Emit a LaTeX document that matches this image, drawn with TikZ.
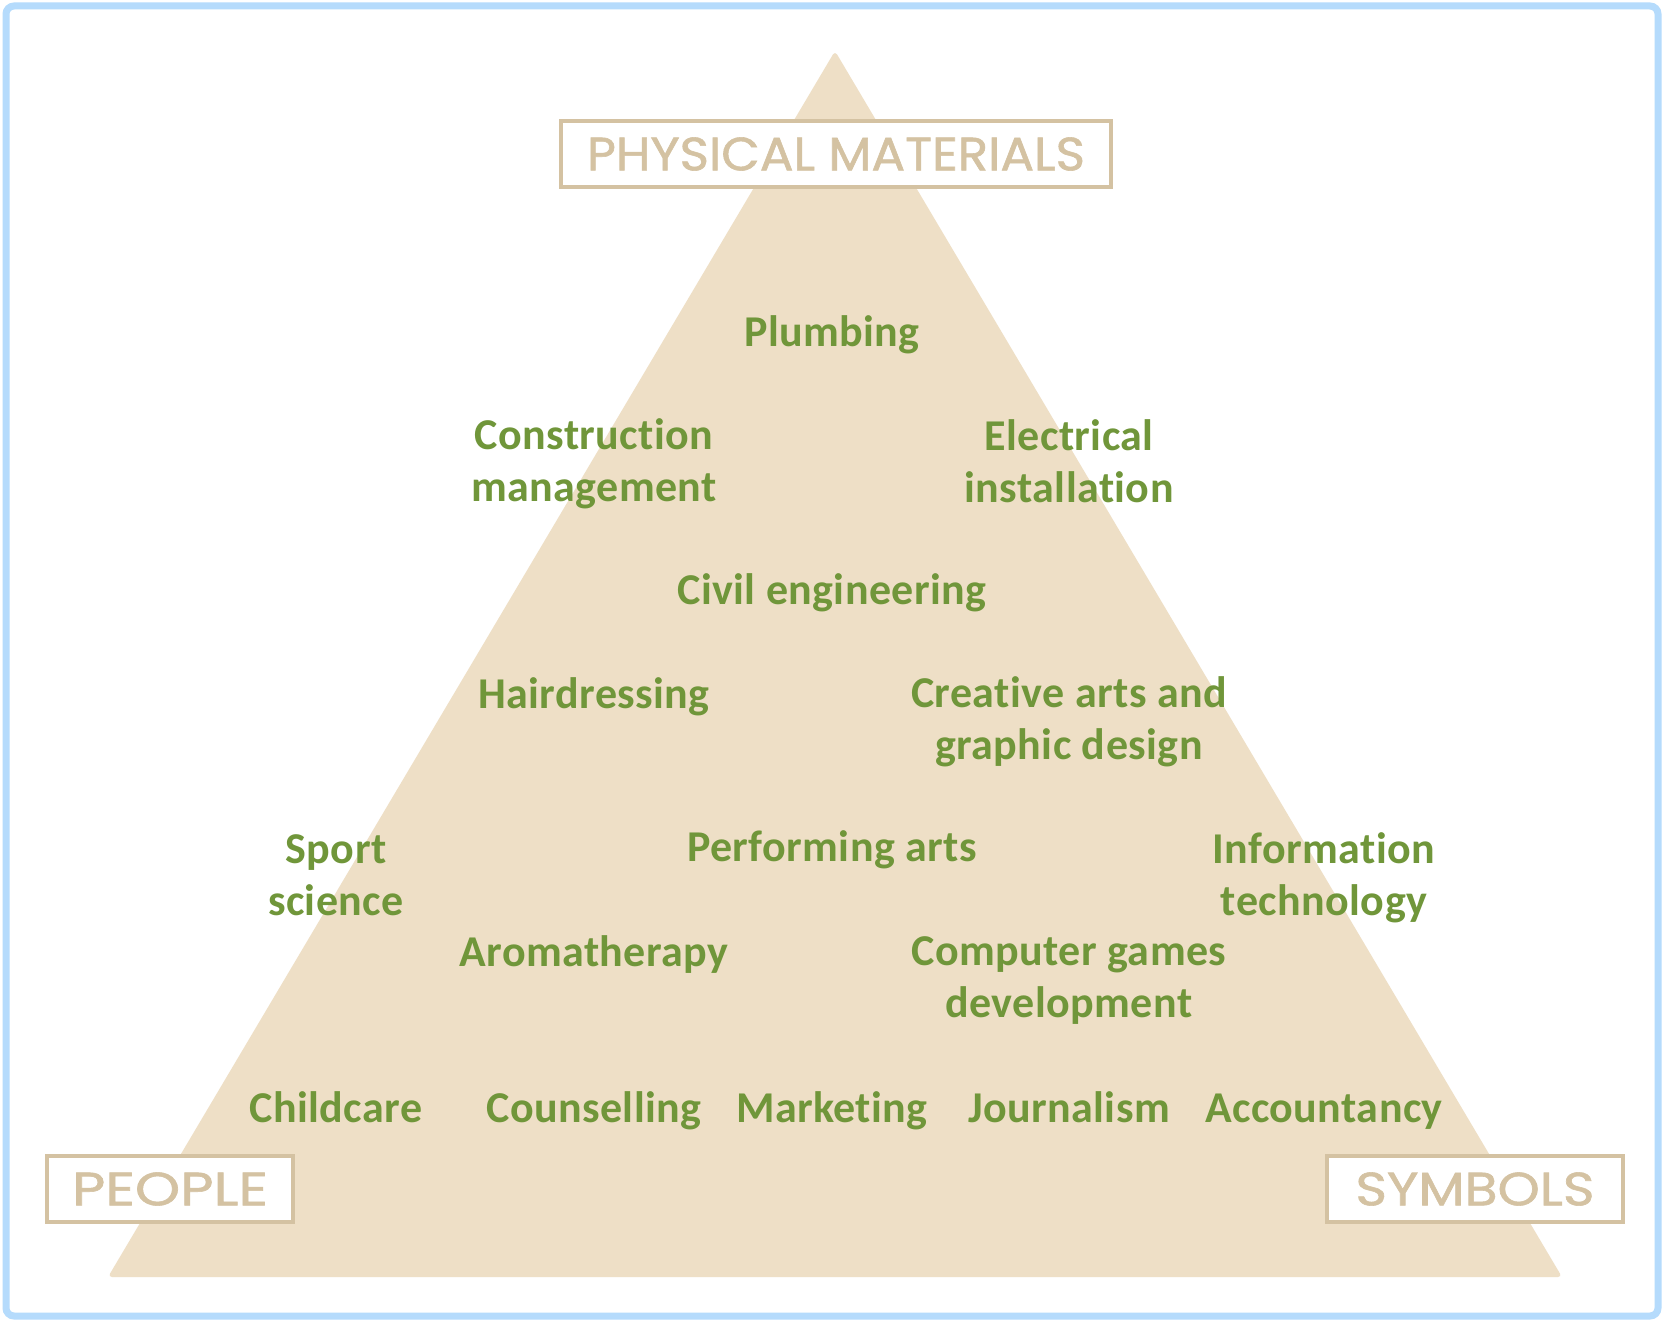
\documentclass[tikz,border=0pt]{standalone}
\usepackage{fontspec}
\setmainfont{Carlito}[Ligatures=NoCommon,LetterSpace=1]
\newfontfamily\boxfont{Poppins}[FakeBold=1.2]
\definecolor{tri}{HTML}{EEDFC6}
\definecolor{grn}{HTML}{70963A}
\definecolor{tan}{HTML}{D4C2A2}
\definecolor{frame}{HTML}{B5DBFC}
\newcommand{\boxtxt}[2]{\resizebox{#1}{16.5pt}{\boxfont\fontsize{22}{26}\selectfont #2}}
\begin{document}
\begin{tikzpicture}[x=0.5pt,y=-0.5pt,
  lbl/.style={font=\fontsize{22}{26}\selectfont\bfseries, text=grn, align=center, inner sep=0pt},
  lbb/.style={lbl, anchor=base},
  cat/.style={draw=tan, line width=2pt, fill=white, text=tan, inner sep=0pt, minimum height=33pt}]
\useasboundingbox (0,0) rectangle (1664,1322);
\fill[white] (0,0) rectangle (1664,1322);
\draw[frame, line width=3.5pt, rounded corners=4pt] (6,6) rectangle (1658,1316);
\fill[tri, rounded corners=2pt] (108,1277) -- (835,51) -- (1562,1277) -- cycle;
\node[cat, minimum width=275pt] (pm) at (836,154) {\boxtxt{249pt}{PHYSICAL MATERIALS}};
\node[cat, minimum width=123pt] (pe) at (170,1189) {\boxtxt{98pt}{PEOPLE}};
\node[cat, minimum width=148pt] (sy) at (1475,1189) {\boxtxt{119.5pt}{SYMBOLS}};
\node[lbb] (plumb) at (832,346) {Plumbing};
\node[lbl] (cons) at (594,464) {Construction\\management};
\node[lbl] (elec) at (1069,461) {Electrical\\installation};
\node[lbb] (civil) at (832,604) {Civil engineering};
\node[lbb] (hair) at (594,708) {Hairdressing};
\node[lbl] (crea) at (1069,722) {Creative arts and\\graphic design};
\node[lbl] (sport) at (336,875) {Sport\\science};
\node[lbb] (perf) at (832,861) {Performing arts};
\node[lbl] (info) at (1324,878) {Information\\technology};
\node[lbb] (aroma) at (594,966) {Aromatherapy};
\node[lbl] (comp) at (1069,981) {Computer games\\development};
\node[lbb] (child) at (336,1122) {Childcare};
\node[lbb] (couns) at (594,1122) {Counselling};
\node[lbb] (mark) at (832,1122) {Marketing};
\node[lbb] (journ) at (1069,1122) {Journalism};
\node[lbb] (acc) at (1324,1122) {Accountancy};
\end{tikzpicture}
\end{document}
